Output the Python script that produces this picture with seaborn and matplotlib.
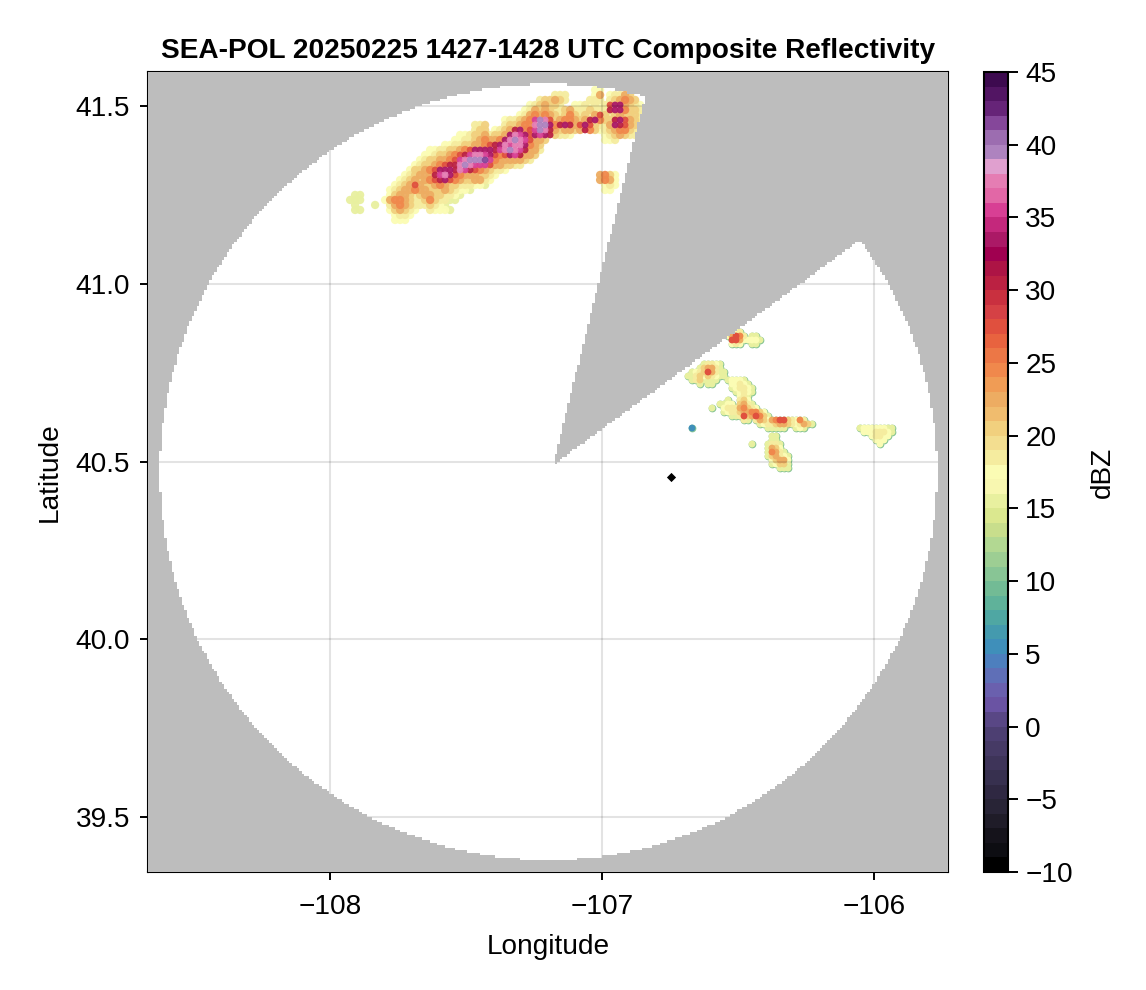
import numpy as np
import pandas as pd
import matplotlib
matplotlib.use("Agg")
import matplotlib.pyplot as plt
from matplotlib.cm import ScalarMappable
from matplotlib.colors import ListedColormap, Normalize
import seaborn as sns

# dBZ colour bands, one per dBZ from -10 up to 45
DBZ_COLORS = [
    "#000000", "#0d0d12", "#15131b", "#1f1c28", "#282436", "#2f2842", "#37304f", "#3e3459",
    "#463a65", "#4d3f72", "#594785", "#6a53a3", "#6a60ae", "#5f6fb7", "#4d7fbe", "#3f8fba",
    "#449aae", "#4fa7a3", "#5fb29a", "#72bb95", "#88c595", "#9dce93", "#b2d892", "#c8de8c",
    "#dbe88f", "#e8f09f", "#f8f7b0", "#fbfcb4", "#f5ec9f", "#f3de90", "#f1d07e", "#f0bc6e",
    "#edac62", "#f09c55", "#f0884c", "#ec7746", "#e8633f", "#e0503e", "#d54145", "#c9303f",
    "#bb2142", "#ad1445", "#a00050", "#ab1966", "#c4287c", "#d83f94", "#e267a6", "#e57db3",
    "#e0a0cf", "#ae83bf", "#9c6db0", "#85479a", "#662478", "#521563", "#3d0a4f",
]

# level letters used in the storm rows below
LEVELS = {"p": 5.5, "n": 12.5, "a": 15.5, "b": 17.5, "c": 18.5, "d": 20.5, "e": 22.5, "f": 24.5,
          "g": 27.5, "h": 30.5, "i": 33.5, "j": 35.5, "k": 37.5, "l": 39.5, "m": 41.5}

# north band: (row, first column, levels)
NORTH_LON0, NORTH_DLON = -107.926, 0.01838
NORTH_LAT0, NORTH_DLAT = 41.5464, -0.01408
NORTH_ROWS = [
    (0, 49, "bb"),
    (1, 41, "ccc.....be.bcced"),
    (2, 38, "cddedc....ccc.cdefed"),
    (3, 36, "bcdeddc..bbcbcbcgiiedcb"),
    (4, 35, "bcededccdecccdccchiifddc"),
    (5, 34, "bcefefedcdfdcdcegdcdedddc"),
    (6, 31, "bccdefjlkgdeffedehifddhigedc"),
    (7, 25, "ccd...cddeffkllifhihegigdcceihgedc"),
    (8, 25, "cdd.bcdehifgjlkhedeedehfdbcdeffdc"),
    (9, 22, "bbcddecddeikjigijihdccb......bcdedcc"),
    (10, 21, "bbccdefeefiklkjgeed...........bbc"),
    (11, 19, "bbccddeefghikjkkifed"),
    (12, 16, "bbccddefgiiiihjklkjheec"),
    (13, 15, "bbcddefghjkkjigfgijheed"),
    (14, 14, "bcddeefgjklllmjfeeeeedc"),
    (15, 13, "bcddefghhklkjjjgeeddcc"),
    (16, 12, "bddefgiiihkjhgfedccb"),
    (17, 11, "bcdeeehjkigfeeeddcb"),
    (17, 50, "efdb"),
    (18, 10, "bcdedefghigfeddeecb"),
    (18, 50, "efeb"),
    (19, 9, "bcdegeddefeddcccbba"),
    (19, 51, "bcb"),
    (20, 8, "bcdeefeedddedcbba"),
    (20, 51, "bb"),
    (21, 1, "aa"),
    (21, 8, "bdeedcdeeddccba"),
    (22, 0, "aaa"),
    (22, 7, "beffedccdfdccaa"),
    (23, 1, "a"),
    (23, 5, "a"),
    (23, 8, "cefedcccdcba"),
    (24, 1, "aa"),
    (24, 8, "bdedcb..cbbba"),
    (25, 9, "bccb"),
    (26, 9, "bbb"),
]

# storms east of the wedge
SOUTH_LON0, SOUTH_DLON = -106.6838, 0.0147
SOUTH_LAT0, SOUTH_DLAT = 40.8648, -0.01127
SOUTH_ROWS = [
    (0, 12, "bc"),
    (1, 10, "begfc.aa"),
    (2, 11, "ggebbbba"),
    (3, 11, "bcb..aa"),
    (8, 4, "accba"),
    (9, 3, "adeeca"),
    (10, 1, "abcdgecaa"),
    (11, 0, "aacdbdcbaa"),
    (12, 1, "acdaaaa"),
    (12, 10, "abbba"),
    (13, 3, "a.aa"),
    (13, 11, "bbcba"),
    (14, 11, "abccba"),
    (15, 12, "abcba"),
    (16, 13, "bca"),
    (17, 10, "a..cdb"),
    (18, 6, "..a"),
    (18, 9, "abb.deca"),
    (19, 6, "a"),
    (19, 9, "bcccefdcb"),
    (20, 9, "abccdeeffdb"),
    (21, 11, "aacgdegfda"),
    (22, 14, "ca.cedbefggdcbfc"),
    (23, 18, "abccdeedcbceda"),
    (24, 1, "p"),
    (24, 20, "aaaaa..aba"),
    (24, 43, "abbbbbbaa"),
    (25, 44, "bbbcccba"),
    (26, 46, "bccbb"),
    (27, 47, "bbb"),
    (28, 48, "b"),
    (26, 21, "aa"),
    (27, 21, "aa"),
    (28, 20, "acca"),
    (28, 16, "a"),
    (29, 20, "aedb"),
    (30, 20, "afeca"),
    (31, 20, "adecba"),
    (32, 21, "bdeeb"),
    (33, 21, "abdda"),
    (34, 23, "aaa"),
]

# radar coverage and site
RADAR_LON, RADAR_LAT = -107.18, 40.49
RANGE_LON0, RANGE_LAT0 = -107.197, 40.47
RANGE_LON, RANGE_LAT = 1.428, 1.093
BLOCKED_FROM, BLOCKED_TO = 29.3, 71.95
SITE_LON, SITE_LAT = [-106.746], [40.456]

XLIM = (-108.669, -105.728)
YLIM = (39.344, 41.597)
XTICKS = [-108, -107, -106]
YTICKS = [39.5, 40.0, 40.5, 41.0, 41.5]
CBAR_TICKS = [-10, -5, 0, 5, 10, 15, 20, 25, 30, 35, 40, 45]


# Turn the storm rows into a table of cells
def rows_to_frame(rows, lon0, dlon, lat0, dlat):
    cells = []
    for row, first, levels in rows:
        for i, ch in enumerate(levels):
            if ch != ".":
                cells.append((lon0 + (first + i) * dlon, lat0 + row * dlat, LEVELS[ch]))
    df = pd.DataFrame(cells, columns=["lon", "lat", "dbz"])
    return df.sort_values("dbz", kind="stable")


# Grey where the radar does not see
def coverage_mask():
    lons = np.arange(XLIM[0], XLIM[1] + 0.01, 0.0092)
    lats = np.arange(YLIM[0], YLIM[1] + 0.01, 0.0072)
    lon2, lat2 = np.meshgrid(lons, lats)
    outside = ((lon2 - RANGE_LON0) / RANGE_LON) ** 2 + ((lat2 - RANGE_LAT0) / RANGE_LAT) ** 2 > 1
    bearing = np.degrees(np.arctan2(lat2 - RADAR_LAT, lon2 - RADAR_LON))
    blocked = (bearing > BLOCKED_FROM) & (bearing < BLOCKED_TO)
    return lons, lats, np.ma.masked_where(~(outside | blocked), np.ones_like(lon2))


def main():
    sns.set_theme(style="ticks")
    plt.rcParams["font.family"] = ["Liberation Sans", "DejaVu Sans"]

    cmap = ListedColormap(DBZ_COLORS)
    norm = Normalize(-10, 45)
    font = 20.15

    fig = plt.figure(figsize=(11.46, 9.9), dpi=100)
    ax = fig.add_axes([148 / 1146, 1 - 872 / 990, 800 / 1146, 800 / 990])
    cax = fig.add_axes([984 / 1146, 1 - 872 / 990, 24 / 1146, 800 / 990])

    north = rows_to_frame(NORTH_ROWS, NORTH_LON0, NORTH_DLON, NORTH_LAT0, NORTH_DLAT)
    south = rows_to_frame(SOUTH_ROWS, SOUTH_LON0, SOUTH_DLON, SOUTH_LAT0, SOUTH_DLAT)
    # weak echo is drawn wide, the strong cores smaller so they do not swallow it
    sns.scatterplot(data=north[north["dbz"] < 27], x="lon", y="lat", hue="dbz", hue_norm=norm, palette=cmap,
                    s=36, alpha=0.95, linewidth=0, legend=False, ax=ax, zorder=2)
    sns.scatterplot(data=north[north["dbz"] >= 27], x="lon", y="lat", hue="dbz", hue_norm=norm, palette=cmap,
                    s=24, alpha=0.95, linewidth=0, legend=False, ax=ax, zorder=2)
    # thin low-reflectivity rim round the eastern storms
    sns.scatterplot(data=south, x="lon", y="lat", color=DBZ_COLORS[20], s=31, linewidth=0,
                    legend=False, ax=ax, zorder=2)
    sns.scatterplot(data=south, x="lon", y="lat", hue="dbz", hue_norm=norm, palette=cmap,
                    s=24, linewidth=0, legend=False, ax=ax, zorder=2)
    sns.scatterplot(x=SITE_LON, y=SITE_LAT, marker="D", color="black", s=22, linewidth=0, ax=ax, zorder=3)

    lons, lats, mask = coverage_mask()
    ax.pcolormesh(lons, lats, mask, cmap=ListedColormap(["#bdbdbd"]), shading="nearest", zorder=4, rasterized=True)

    ax.set_xlim(XLIM)
    ax.set_ylim(YLIM)
    ax.set_xticks(XTICKS)
    ax.set_yticks(YTICKS)
    ax.set_yticklabels([f"{v:.1f}" for v in YTICKS])
    ax.grid(True, color="black", alpha=0.11, linewidth=1.5, zorder=5)
    ax.set_axisbelow(False)
    ax.tick_params(axis="x", length=6, width=1.4, labelsize=font, pad=10, color="black", labelcolor="black")
    ax.tick_params(axis="y", length=6, width=1.4, labelsize=font, pad=7, color="black", labelcolor="black")
    for side in ax.spines.values():
        side.set_linewidth(1.5)
        side.set_color("black")
    ax.set_xlabel("Longitude", fontsize=font, labelpad=10, color="black")
    ax.set_ylabel("Latitude", fontsize=font, labelpad=9, color="black")
    ax.set_title("SEA-POL 20250225 1427-1428 UTC Composite Reflectivity",
                 fontsize=font, fontweight="bold", pad=10, color="black")

    cb = fig.colorbar(ScalarMappable(norm=norm, cmap=cmap), cax=cax, ticks=CBAR_TICKS)
    cb.outline.set_linewidth(1.5)
    cb.outline.set_edgecolor("black")
    cb.ax.tick_params(length=7.5, width=1.4, labelsize=font, pad=5, color="black", labelcolor="black")
    cb.set_label("dBZ", fontsize=font, labelpad=12, color="black")

    fig.savefig("out.png", dpi=100)


if __name__ == "__main__":
    main()
